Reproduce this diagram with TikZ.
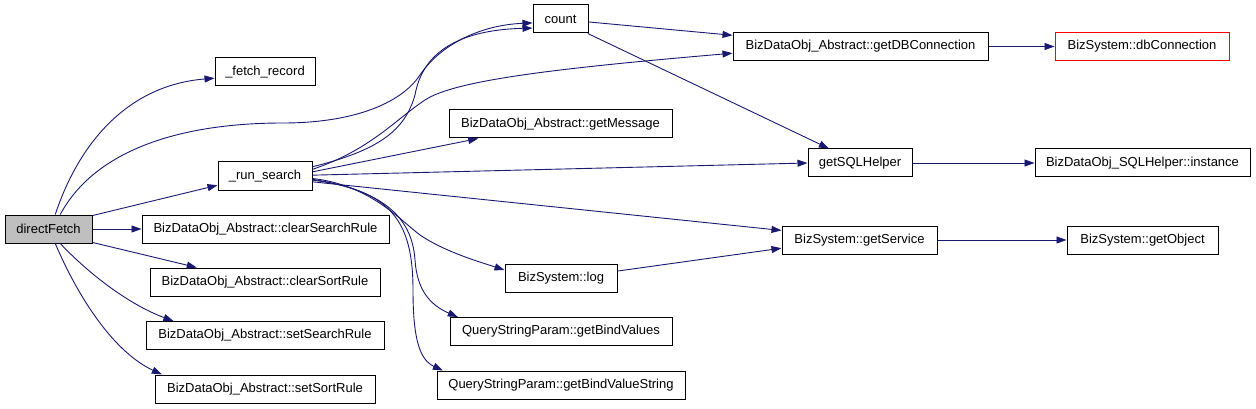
\documentclass[tikz,border=0pt]{standalone}
\usepackage{fontspec}
\setmainfont{Liberation Sans}
\usetikzlibrary{arrows.meta}
\definecolor{edgeblue}{HTML}{191970}
\definecolor{rootgray}{HTML}{BFBFBF}
\tikzset{
  fn/.style={draw=black, line width=1pt, minimum height=28pt, inner sep=0pt, font=\fontsize{13}{15}\selectfont, fill=white},
  call/.style={draw=edgeblue, line width=0.9pt, -{Triangle[length=10pt,width=7pt]}},
}
\begin{document}
\begin{tikzpicture}[x=1pt,y=-1pt]
\useasboundingbox (0,0) rectangle (1256,409);
% nodes
\node[fn, fill=rootgray, minimum width=87pt] (df) at (48.5,229) {directFetch};
\node[fn, minimum width=100pt] (fr) at (265,72) {\_fetch\_record};
\node[fn, minimum width=94pt] (rs) at (265,176) {\_run\_search};
\node[fn, minimum width=247pt] (csr) at (265.5,229) {BizDataObj\_Abstract::clearSearchRule};
\node[fn, minimum width=230pt] (cso) at (265,282) {BizDataObj\_Abstract::clearSortRule};
\node[fn, minimum width=238pt] (ssr) at (265,335.5) {BizDataObj\_Abstract::setSearchRule};
\node[fn, minimum width=220pt] (sso) at (265,389) {BizDataObj\_Abstract::setSortRule};
\node[fn, minimum width=55pt] (cnt) at (560.5,19) {count};
\node[fn, minimum width=223pt] (gm) at (560.5,124) {BizDataObj\_Abstract::getMessage};
\node[fn, minimum width=112pt] (log) at (561,278) {BizSystem::log};
\node[fn, minimum width=222pt] (gbv) at (561,331.5) {QueryStringParam::getBindValues};
\node[fn, minimum width=248pt] (gbvs) at (561,385) {QueryStringParam::getBindValueString};
\node[fn, minimum width=255pt] (gdb) at (860.5,46.5) {BizDataObj\_Abstract::getDBConnection};
\node[fn, minimum width=104pt] (sql) at (860,163) {getSQLHelper};
\node[fn, minimum width=155pt] (gs) at (859.5,240) {BizSystem::getService};
\node[fn, draw=red, minimum width=174pt] (dbc) at (1142,46.5) {BizSystem::dbConnection};
\node[fn, minimum width=215pt] (inst) at (1142.5,163) {BizDataObj\_SQLHelper::instance};
\node[fn, minimum width=151pt] (gobj) at (1142.5,240) {BizSystem::getObject};
% edges from directFetch
\draw[call] (df.65) .. controls (80,140) and (130,85) .. (fr.187);
\draw[call] (df.51) .. controls (95,150) and (180,123) .. (283,123) .. controls (350,123) and (400,105) .. (420,75) .. controls (440,45) and (480,25) .. (cnt.188);
\draw[call] (df.17) -- (rs.191);
\draw[call] (df.east) -- (csr.west);
\draw[call] (df.-17) -- (cso.168);
\draw[call] (df.-51) .. controls (90,275) and (130,305) .. (ssr.171);
\draw[call] (df.-65) .. controls (75,290) and (110,350) .. (sso.172);
% edges from _run_search
\draw[call] (rs.11) .. controls (380,150) and (405,130) .. (415,95) .. controls (422,55) and (455,30) .. (cnt.198);
\draw[call] (rs.8) .. controls (370,150) and (395,120) .. (425,100) .. controls (455,80) and (560,68) .. (gdb.183);
\draw[call] (rs.5) -- (gm.190);
\draw[call] (rs.1) -- (sql.180);
\draw[call] (rs.-7) -- (gs.173);
\draw[call] (rs.-3) .. controls (370,185) and (400,220) .. (420,235) .. controls (445,252) and (480,262) .. (log.172);
\draw[call] (rs.-4) .. controls (380,190) and (412,215) .. (415,260) .. controls (417,290) and (430,305) .. (gbv.172);
\draw[call] (rs.-5) .. controls (390,190) and (413,220) .. (413,290) .. controls (413,340) and (420,360) .. (gbvs.173);
% remaining edges
\draw[call] (cnt.-6) -- (gdb.175);
\draw[call] (cnt.-28) -- (sql.155);
\draw[call] (gdb.east) -- (dbc.west);
\draw[call] (sql.east) -- (inst.west);
\draw[call] (gs.east) -- (gobj.west);
\draw[call] (log.7) -- (gs.186);
\end{tikzpicture}
\end{document}
